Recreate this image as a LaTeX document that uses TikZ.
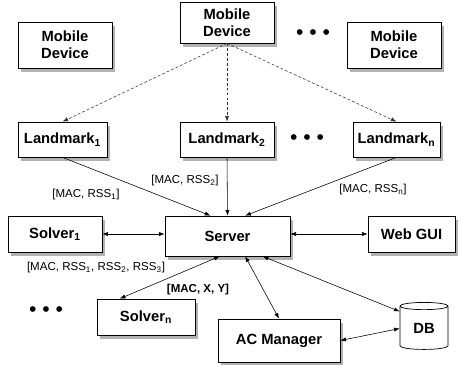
\documentclass[tikz,border=0pt]{standalone}
\usepackage{fontspec}
\setmainfont{Liberation Sans}
\usetikzlibrary{arrows.meta,positioning,shadows,shapes.geometric}

\begin{document}
\begin{tikzpicture}[
  x=0.025cm, y=-0.025cm,
  box/.style={draw, fill=white, align=center, inner sep=1pt, line width=0.5pt, font=\fontsize{10.5}{12}\selectfont\bfseries, drop shadow={shadow xshift=0.08cm, shadow yshift=-0.1cm, fill=black!30, opacity=1}},
  db/.style={draw, fill=white, cylinder, shape border rotate=90, aspect=0.3, minimum width=1.2cm, minimum height=1.175cm, inner sep=1pt, line width=0.5pt, font=\fontsize{10.5}{12}\selectfont\bfseries},
  lbl/.style={font=\fontsize{8.2}{9.5}\selectfont, inner sep=1pt},
  dots/.style={font=\fontsize{15}{15}\selectfont, inner sep=0pt},
  arr/.style={-{Latex[length=4pt,width=3pt]}, line width=0.4pt},
  biarr/.style={{Latex[length=4pt,width=3pt]}-{Latex[length=4pt,width=3pt]}, line width=0.4pt},
  dasharr/.style={arr, dash pattern=on 2pt off 1.5pt, draw=black!80}
]
\useasboundingbox (0,0) rectangle (464,364);

% mobile devices
\node[box, minimum width=2.35cm, minimum height=1.15cm] (mobL) at (65,45) {Mobile\\Device};
\node[box, minimum width=2.35cm, minimum height=1.025cm] (mobC) at (227,22.5) {Mobile\\Device};
\node[box, minimum width=2.35cm, minimum height=1.15cm] (mobR) at (394,45) {Mobile\\Device};
\node[dots] (dotsTop) at (313,35) {\textbullet\ \textbullet\ \textbullet};

% landmarks
\node[box, minimum width=2.225cm, minimum height=0.875cm] (lm1) at (62.5,139.5) {Landmark\textsubscript{1}};
\node[box, minimum width=2.35cm, minimum height=0.875cm] (lm2) at (227,139.5) {Landmark\textsubscript{2}};
\node[box, minimum width=2.175cm, minimum height=0.875cm] (lmn) at (396.5,139.5) {Landmark\textsubscript{n}};
\node[dots] (dotsMid) at (307,140) {\textbullet\ \textbullet\ \textbullet};

\draw[dasharr] (mobC.south) -- (lm1.north);
\draw[dasharr] (mobC.south) -- (lm2.north);
\draw[dasharr] (mobC.south) -- (lmn.north);

% server and the rest
\node[box, minimum width=3.125cm, minimum height=1.0cm] (server) at (227.5,236) {Server};
\node[box, minimum width=2.35cm, minimum height=0.9cm] (solver1) at (55,234) {Solver\textsubscript{1}};
\node[box, minimum width=2.175cm, minimum height=0.9cm] (webgui) at (411.5,234) {Web GUI};
\node[box, minimum width=2.45cm, minimum height=0.9cm] (solvern) at (146,317) {Solver\textsubscript{n}};
\node[dots] (dotsLow) at (46,312) {\textbullet\ \textbullet\ \textbullet};
\node[box, minimum width=3.05cm, minimum height=1.075cm] (acman) at (279,340.5) {AC Manager};
\node[db] (db) at (424,328.5) {DB};

\draw[arr] (lm1.south) -- (server.130);
\draw[arr] (lm2.south) -- (server.north);
\draw[arr] (lmn.south) -- (server.49);
\node[lbl] (rss1) at (86,195) {[MAC, RSS\textsubscript{1}]};
\node[lbl] (rss2) at (185,181) {[MAC, RSS\textsubscript{2}]};
\node[lbl] (rssn) at (373,190) {[MAC, RSS\textsubscript{n}]};

\draw[biarr] (solver1.east) -- (solver1.east -| server.west);
\draw[biarr] (server.east |- webgui.west) -- (webgui.west);
\node[lbl] (rssall) at (96,268) {[MAC, RSS\textsubscript{1}, RSS\textsubscript{2}, RSS\textsubscript{3}]};

\draw[biarr] (server.249) -- (solvern.145);
\node[lbl, font=\fontsize{8.2}{9.5}\selectfont\bfseries] (mxy) at (198,290) {[MAC, X, Y]};
\draw[biarr] (server.311) -- (acman.north);
\draw[biarr] (server.330) -- (db.145);
\draw[biarr] (acman.east) -- (db.west);

\end{tikzpicture}
\end{document}
